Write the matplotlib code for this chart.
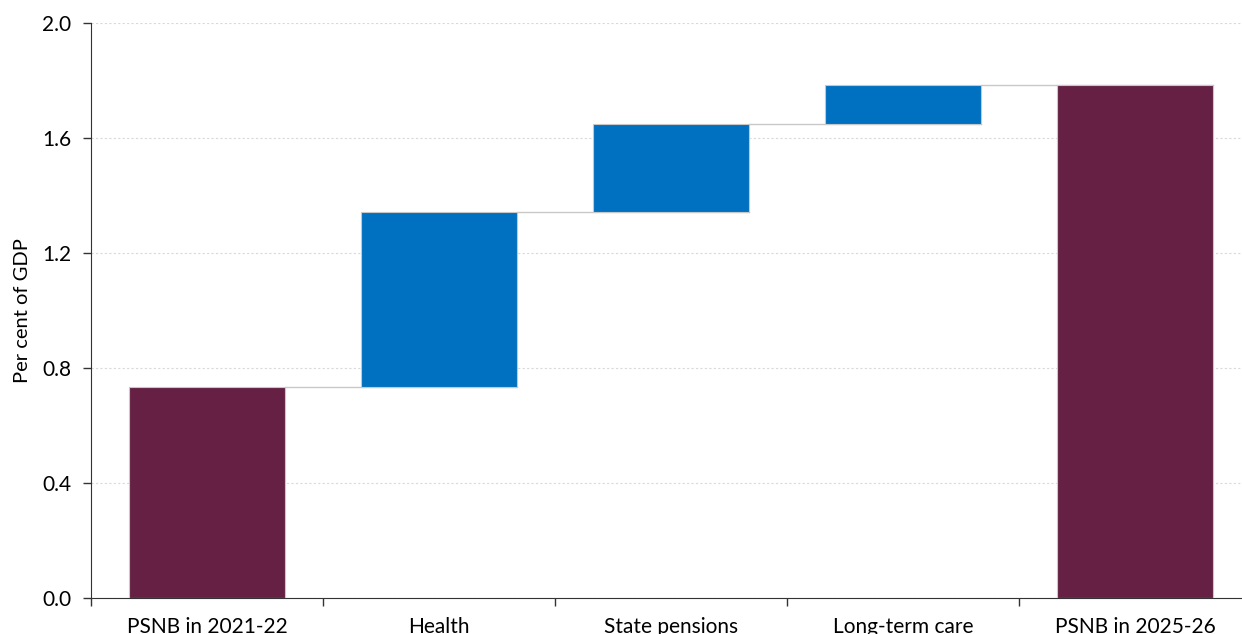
import matplotlib
matplotlib.use("Agg")
import matplotlib.pyplot as plt

plt.rcParams['font.family'] = ['Lato', 'DejaVu Sans']

# data
categories = ['PSNB in 2021-22', 'Health', 'State pensions', 'Long-term care', 'PSNB in 2025-26']
start_value = 0.734
changes = [0.609, 0.306, 0.135]
end_value = 1.784

maroon = '#662044'
blue = '#0070C0'
edge = '#c8c8c8'

fig = plt.figure(figsize=(12.42, 6.34), dpi=100)
ax = fig.add_axes([91 / 1242, 1 - 598 / 634, 1160 / 1242, 575 / 634])

width = 0.67
bottoms = [0]
heights = [start_value]
colors = [maroon]
level = start_value
for c in changes:
    bottoms.append(level)
    heights.append(c)
    colors.append(blue)
    level += c
bottoms.append(0)
heights.append(end_value)
colors.append(maroon)

x = list(range(len(categories)))
ax.bar(x, heights, bottom=bottoms, width=width, color=colors,
       edgecolor=edge, linewidth=0.8, zorder=3)

# connector lines between bars
tops = [b + h for b, h in zip(bottoms, heights)]
for i in range(len(categories) - 1):
    ax.plot([i + width / 2, i + 1 + width / 2], [tops[i], tops[i]],
            color=edge, linewidth=1, zorder=2)

ax.set_xlim(-0.5, 4.5)
ax.set_ylim(0, 2.0)
ax.set_yticks([0, 0.4, 0.8, 1.2, 1.6, 2.0])
ax.set_yticklabels(['0.0', '0.4', '0.8', '1.2', '1.6', '2.0'])
ax.set_xticks(x)
ax.set_xticklabels(categories)
ax.set_xticks([i - 0.5 for i in range(6)], minor=True)
ax.tick_params(axis='x', which='major', length=0, pad=14, labelsize=15, colors='black')
ax.tick_params(axis='x', which='minor', length=6, width=1, color='#333333', direction='out')
ax.tick_params(axis='y', length=6, width=1, color='#333333', labelsize=15, pad=8)

ax.grid(axis='y', color='#d9d9d9', linestyle=(0, (2, 2)), linewidth=0.8, zorder=0)
ax.set_axisbelow(True)

for s in ['top', 'right']:
    ax.spines[s].set_visible(False)
ax.spines['left'].set_color('#333333')
ax.spines['bottom'].set_color('#333333')

ax.set_ylabel('Per cent of GDP', fontsize=14.5, labelpad=8)

fig.savefig('out.png', dpi=100)
